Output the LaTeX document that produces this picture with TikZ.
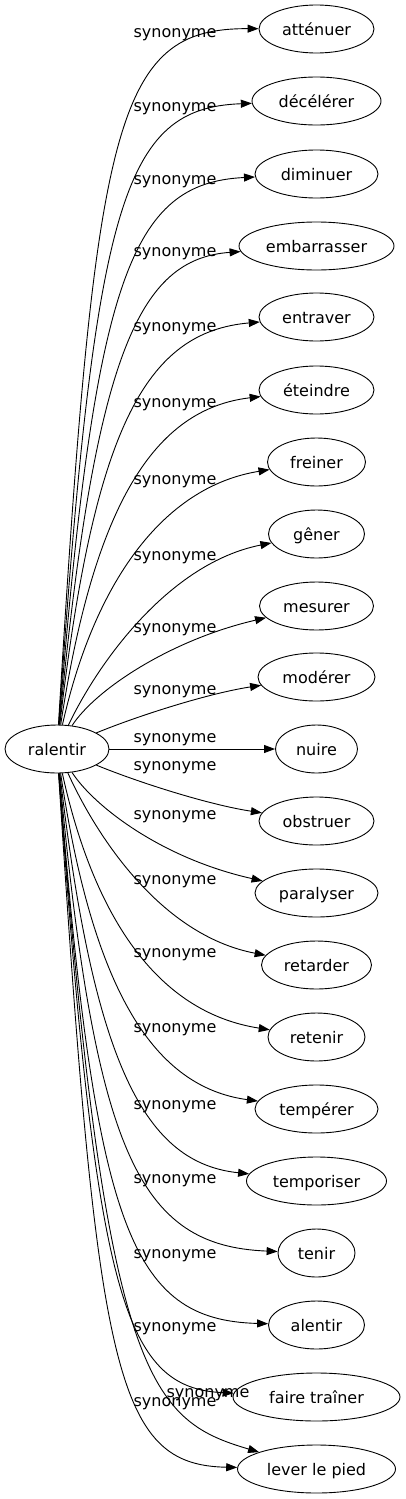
\documentclass[tikz,border=0pt]{standalone}
\usepackage{fontspec}
\setmainfont{DejaVu Sans}
\usetikzlibrary{shapes.geometric,arrows.meta}
\tikzset{
  word/.style={draw, ellipse, line width=0.9pt, minimum height=48pt, inner sep=0pt,
    text height=12pt, text depth=0pt, font=\fontsize{16pt}{19pt}\selectfont},
  lbl/.style={anchor=base, inner sep=0pt, font=\fontsize{16pt}{19pt}\selectfont},
  edge/.style={draw, line width=0.9pt, -{Triangle[length=11pt,width=8pt]}}
}
\begin{document}
\begin{tikzpicture}[x=1pt,y=-1pt]
\useasboundingbox (0,0) rectangle (405,1499);
\node[word, minimum width=104pt] (r) at (57,749) {ralentir};
\node[word, minimum width=115pt] (n1) at (316.5,29) {atténuer};
\node[word, minimum width=129pt] (n2) at (316.5,101) {décélérer};
\node[word, minimum width=123pt] (n3) at (316.5,174) {diminuer};
\node[word, minimum width=155pt] (n4) at (316.5,246) {embarrasser};
\node[word, minimum width=115pt] (n5) at (316.5,317) {entraver};
\node[word, minimum width=115pt] (n6) at (316.5,390) {éteindre};
\node[word, minimum width=98pt] (n7) at (316.5,462) {freiner};
\node[word, minimum width=96pt] (n8) at (316.5,534) {gêner};
\node[word, minimum width=114pt] (n9) at (316.5,606) {mesurer};
\node[word, minimum width=117pt] (n10) at (316.5,677) {modérer};
\node[word, minimum width=82pt] (n11) at (316.5,749) {nuire};
\node[word, minimum width=115pt] (n12) at (316.5,821) {obstruer};
\node[word, minimum width=123pt] (n13) at (316.5,893) {paralyser};
\node[word, minimum width=110pt] (n14) at (316.5,965) {retarder};
\node[word, minimum width=97pt] (n15) at (316.5,1037) {retenir};
\node[word, minimum width=123pt] (n16) at (316.5,1109) {tempérer};
\node[word, minimum width=140pt] (n17) at (316.5,1181) {temporiser};
\node[word, minimum width=77pt] (n18) at (316.5,1253) {tenir};
\node[word, minimum width=96pt] (n19) at (316.5,1325) {alentir};
\node[word, minimum width=167pt] (n20) at (316.5,1397) {faire traîner};
\node[word, minimum width=158pt] (n21) at (316.5,1469) {lever le pied};
% edges
\draw[edge] (r) .. controls (95,120) and (115,28) .. (n1);
\draw[edge] (r) .. controls (95,201) and (123,108) .. (n2);
\draw[edge] (r) .. controls (95,277) and (131,183) .. (n3);
\draw[edge] (r) .. controls (95,353) and (139,259) .. (n4);
\draw[edge] (r) .. controls (94,427) and (146,332) .. (n5);
\draw[edge] (r) .. controls (94,505) and (154,409) .. (n6);
\draw[edge] (r) .. controls (94,584) and (162,487) .. (n7);
\draw[edge] (r) .. controls (99,661) and (170,563) .. (n8);
\draw[edge] (r) .. controls (95,690) and (170,640) .. (n9);
\draw[edge] (r) .. controls (140,715) and (210,693) .. (n10);
\draw[edge] (r) -- (n11);
\draw[edge] (r) .. controls (140,783) and (210,805) .. (n12);
\draw[edge] (r) .. controls (93,805) and (160,858) .. (n13);
\draw[edge] (r) .. controls (96,835) and (160,935) .. (n14);
\draw[edge] (r) .. controls (93,913) and (155,1012) .. (n15);
\draw[edge] (r) .. controls (93,991) and (154,1087) .. (n16);
\draw[edge] (r) .. controls (94,1068) and (146,1163) .. (n17);
\draw[edge] (r) .. controls (95,1152) and (138,1246) .. (n18);
\draw[edge] (r) .. controls (95,1227) and (130,1320) .. (n19);
\draw[edge] (r) .. controls (96,1295) and (123,1388) .. (n20);
\draw[edge] (r) .. controls (97,1373) and (115,1465) .. (n21);
\draw[edge] (r) .. controls (105,1380) and (150,1420) .. (n21);
% labels
\node[lbl] (l1) at (175,37) {synonyme};
\node[lbl] (l2) at (175,111) {synonyme};
\node[lbl] (l3) at (175,184) {synonyme};
\node[lbl] (l4) at (175,256) {synonyme};
\node[lbl] (l5) at (175,331) {synonyme};
\node[lbl] (l6) at (175,407) {synonyme};
\node[lbl] (l7) at (175,484) {synonyme};
\node[lbl] (l8) at (175,560) {synonyme};
\node[lbl] (l9) at (175,632) {synonyme};
\node[lbl] (l10) at (175,694) {synonyme};
\node[lbl] (l11) at (175,742) {synonyme};
\node[lbl] (l12) at (175,770) {synonyme};
\node[lbl] (l13) at (175,819) {synonyme};
\node[lbl] (l14) at (175,884) {synonyme};
\node[lbl] (l15) at (175,957) {synonyme};
\node[lbl] (l16) at (175,1032) {synonyme};
\node[lbl] (l17) at (175,1109) {synonyme};
\node[lbl] (l18) at (175,1183) {synonyme};
\node[lbl] (l19) at (175,1258) {synonyme};
\node[lbl] (l20) at (175,1331) {synonyme};
\node[lbl] (l21) at (208,1397) {synonyme};
\node[lbl] (l22) at (175,1406) {synonyme};
\end{tikzpicture}
\end{document}
